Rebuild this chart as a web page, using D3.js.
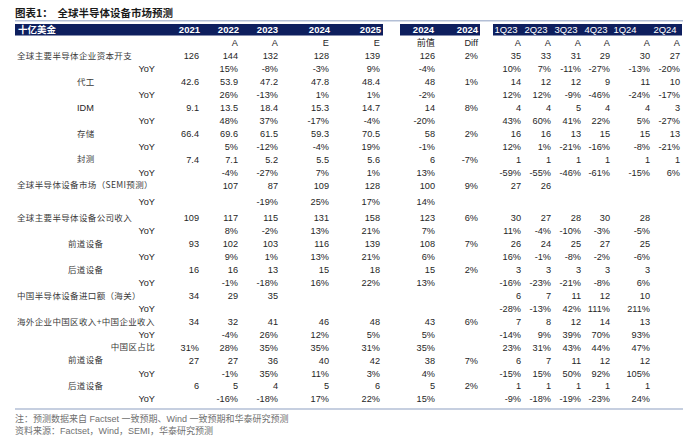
<!DOCTYPE html>
<html><head><meta charset="utf-8">
<script src="https://cdn.jsdelivr.net/npm/d3@7"></script>
<style>
html,body{margin:0;padding:0;background:#fff;}
svg{display:block;}
</style></head>
<body>
<div id="chart"></div>
<script>
// ---------------- DATA ----------------
const title = "图表1：  全球半导体设备市场预测";
const unitLabel = "十亿美金";
const annualHeaders = ["2021","2022","2023","2024","2025"];
const annualSub = ["","A","A","E","E"];
const compareHeaders = ["2024","2024"];
const compareSub = ["前值","Diff"];
const quarterHeaders = ["1Q23","2Q23","3Q23","4Q23","1Q24","2Q24"];
const quarterSub = ["A","A","A","A","A","A"];

const rowLabels = ["全球主要半导体企业资本开支","YoY","代工","YoY","IDM","YoY","存储","YoY","封测","YoY",
  "全球半导体设备市场（SEMI预测）","YoY","全球主要半导体设备公司收入","YoY","前道设备","YoY","后道设备","YoY",
  "中国半导体设备进口额（海关）","YoY","海外企业中国区收入+中国企业收入","YoY","中国区占比","前道设备","YoY","后道设备","YoY"];
const rowKinds = ["main","yoy","sub","yoy","sub","yoy","sub","yoy","sub","yoy",
  "main","yoy","main","yoy","sub2","yoy","sub2","yoy",
  "main","yoy","main","yoy","share","sub2","yoy","sub2","yoy"];

const v2021 = ["126","","42.6","","9.1","","66.4","","7.4","","","","109","","93","","16","","34","","34","","31%","27","","6",""];
const v2022 = ["144","15%","53.9","26%","13.5","48%","69.6","5%","7.1","-4%","107","","117","8%","102","9%","16","-1%","29","","32","-4%","28%","27","-1%","5","-16%"];
const v2023 = ["132","-8%","47.2","-13%","18.4","37%","61.5","-12%","5.2","-27%","87","-19%","115","-2%","103","1%","13","-18%","35","","41","26%","35%","36","35%","4","-18%"];
const v2024 = ["128","-3%","47.8","1%","15.3","-17%","59.3","-4%","5.5","7%","109","25%","131","13%","116","13%","15","16%","","","46","12%","35%","40","11%","5","17%"];
const v2025 = ["139","9%","48.4","1%","14.7","-4%","70.5","19%","5.6","1%","128","17%","158","21%","139","21%","18","22%","","","48","5%","31%","42","3%","6","22%"];
const vPrev2024 = ["126","-4%","48","-2%","14","-20%","58","-1%","6","13%","100","14%","123","7%","108","6%","15","13%","","","43","5%","35%","38","4%","5","15%"];
const vDiff2024 = ["2%","","1%","","8%","","2%","","-7%","","9%","","6%","","7%","","2%","","","","6%","","","7%","","2%",""];
const v1Q23 = ["35","10%","14","12%","4","43%","16","12%","1","-59%","27","","30","11%","26","16%","3","-16%","6","-28%","7","-14%","23%","6","-15%","1","-9%"];
const v2Q23 = ["33","7%","12","12%","4","60%","16","1%","1","-55%","26","","27","-4%","24","-1%","3","-23%","7","-13%","8","9%","31%","7","15%","1","-18%"];
const v3Q23 = ["31","-11%","12","-9%","5","41%","13","-21%","1","-46%","","","28","-10%","25","-8%","3","-21%","11","42%","12","39%","43%","11","50%","1","-19%"];
const v4Q23 = ["29","-27%","9","-46%","4","22%","15","-16%","1","-61%","","","30","-3%","27","-2%","3","-8%","12","111%","14","70%","44%","12","92%","1","-23%"];
const v1Q24 = ["30","-13%","11","-24%","4","5%","15","-8%","1","-15%","","","28","-5%","25","-6%","3","6%","10","211%","13","93%","47%","12","105%","1","24%"];
const v2Q24 = ["27","-20%","10","-17%","3","-27%","13","-21%","1","6%","","","","","","","","","","","","","","","","",""];
const footNote = "注：预测数据来自 Factset 一致预期、Wind 一致预期和华泰研究预测";
const source = "资料来源：Factset，Wind，SEMI，华泰研究预测";

// ---------------- LAYOUT ----------------
const W = 700, H = 443;
const NAVY = "#0e1f5e";
const LINE = "#b3bfd6";
const TXT = "#262626";
const LAT = "'Liberation Sans', Arial, 'Noto Sans CJK SC', sans-serif";
const CJK = "'Noto Sans CJK SC', 'Liberation Sans', sans-serif";

const columnKeys = ["c2021","c2022","c2023","c2024","c2025","prev","diff","q1","q2","q3","q4","q5","q6"];
const columnValues = [v2021,v2022,v2023,v2024,v2025,vPrev2024,vDiff2024,v1Q23,v2Q23,v3Q23,v4Q23,v1Q24,v2Q24];
const columnHeaders = annualHeaders.concat(compareHeaders, quarterHeaders);
const columnSubs = annualSub.concat(compareSub, quarterSub);

const xCol = d3.scaleOrdinal().domain(columnKeys)
  .range([199,238,278,329,380,435,478,521,551,581,610,650,680]);
const xHead = d3.scaleOrdinal().domain(columnKeys)
  .range([200,239,278,330,381,434,478,506,536,566,596,625,665]);
const headAnchor = k => k.startsWith("q") ? "middle" : "end";

const rowIdx = d3.range(rowLabels.length);
const yBase = d3.scaleLinear().domain([0, rowLabels.length - 1]).range([56, 56 + 26 * 12.93]);
const yRow = i => yBase(i) + (i >= 11 ? 3.5 : 0) + (i >= 12 ? 3.5 : 0);

const labelX = {main: 17, sub: 77, sub2: 68, yoy: 155, share: 155};
const labelAnchor = {main: "start", sub: "start", sub2: "start", yoy: "end", share: "end"};

const svg = d3.select("#chart").append("svg").attr("width", W).attr("height", H);

// title
svg.append("text").attr("x", 15).attr("y", 17)
  .attr("font-family", CJK).attr("font-size", 10.5).attr("font-weight", "bold")
  .attr("fill", "#1a1a1a").attr("xml:space", "preserve").text(title);
svg.append("line").attr("x1", 15).attr("x2", 683).attr("y1", 20.75).attr("y2", 20.75)
  .attr("stroke", LINE).attr("stroke-width", 1.5);

// header bars
const bars = [[15, 383], [400, 480], [493, 682]];
svg.selectAll("rect.hb").data(bars).join("rect").attr("class", "hb")
  .attr("x", d => d[0]).attr("width", d => d[1] - d[0])
  .attr("y", 24).attr("height", 11.5).attr("fill", NAVY);

svg.append("text").attr("x", 18).attr("y", 29.8).attr("dy", "0.35em")
  .attr("font-family", CJK).attr("font-size", 9.5).attr("font-weight", "bold")
  .attr("fill", "#fff").text(unitLabel);

svg.selectAll("text.hd").data(columnKeys).join("text").attr("class", "hd")
  .attr("x", k => xHead(k)).attr("y", 29.8).attr("dy", "0.35em")
  .attr("text-anchor", k => headAnchor(k))
  .attr("font-family", LAT).attr("font-size", 9.5)
  .attr("font-weight", k => k.startsWith("q") ? "normal" : "bold")
  .attr("fill", "#fff").text((k, i) => columnHeaders[i]);

svg.selectAll("text.sub").data(columnKeys).join("text").attr("class", "sub")
  .attr("x", k => xCol(k)).attr("y", 43).attr("dy", "0.35em")
  .attr("text-anchor", "end")
  .attr("font-family", LAT).attr("font-size", 9.2)
  .attr("fill", TXT).text((k, i) => columnSubs[i]);

// row labels
svg.selectAll("text.rl").data(rowIdx).join("text").attr("class", "rl")
  .attr("x", i => labelX[rowKinds[i]])
  .attr("y", i => yRow(i)).attr("dy", "0.35em")
  .attr("text-anchor", i => labelAnchor[rowKinds[i]])
  .attr("font-family", i => rowKinds[i] === "yoy" || rowLabels[i] === "IDM" ? LAT : CJK)
  .attr("font-size", i => rowKinds[i] === "yoy" || rowLabels[i] === "IDM" ? 9.2 : 8.5)
  .attr("letter-spacing", i => rowKinds[i] === "yoy" || rowLabels[i] === "IDM" ? 0 : 0.35)
  .attr("fill", i => rowKinds[i] === "yoy" || rowLabels[i] === "IDM" ? TXT : "#3a3a3a")
  .text(i => rowLabels[i]);

// cells
const cells = [];
columnKeys.forEach((k, c) => {
  columnValues[c].forEach((v, r) => { if (v !== "") cells.push({k, r, v}); });
});
svg.selectAll("text.cell").data(cells).join("text").attr("class", "cell")
  .attr("x", d => xCol(d.k)).attr("y", d => yRow(d.r)).attr("dy", "0.35em")
  .attr("text-anchor", "end")
  .attr("font-family", LAT).attr("font-size", 9.2).attr("fill", TXT)
  .text(d => d.v);

// footer
svg.append("line").attr("x1", 15).attr("x2", 683).attr("y1", 409).attr("y2", 409)
  .attr("stroke", LINE).attr("stroke-width", 1.5);
svg.append("text").attr("x", 15).attr("y", 418.5).attr("dy", "0.35em")
  .attr("font-family", LAT).attr("font-size", 9).attr("fill", "#707070").text(footNote);
svg.append("text").attr("x", 15).attr("y", 430.5).attr("dy", "0.35em")
  .attr("font-family", LAT).attr("font-size", 9).attr("fill", "#707070").text(source);
</script>
</body></html>
